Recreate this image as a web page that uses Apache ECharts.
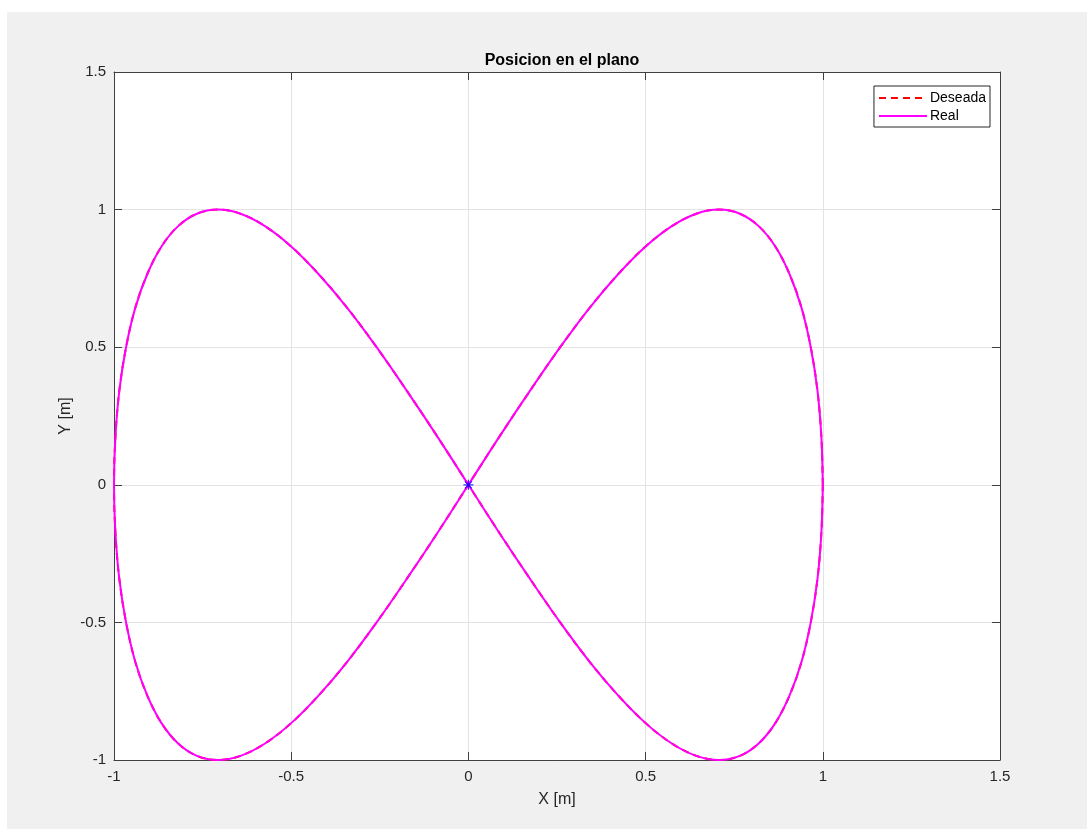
<!DOCTYPE html>
<html>
<head>
<meta charset="utf-8">
<script src="https://cdn.jsdelivr.net/npm/echarts@6/dist/echarts.min.js"></script>
<style>
  html, body { margin: 0; padding: 0; background: #ffffff; }
  #panel { position: absolute; left: 7px; top: 12px; width: 1080px; height: 817px; background: #f0f0f0; }
  #chart { position: absolute; left: 0; top: 0; width: 1087px; height: 829px; }
</style>
</head>
<body>
<div id="panel"></div>
<div id="chart"></div>
<script>
// Points (x [m], y [m])
const desiredX = [1, 0.996, 0.985, 0.966, 0.940, 0.906, 0.866, 0.819, 0.766, 0.707, 0.643, 0.574, 0.5,
  0.423, 0.342, 0.259, 0.174, 0.087, 0, -0.087, -0.174, -0.259, -0.342, -0.423, -0.5,
  -0.574, -0.643, -0.707, -0.766, -0.819, -0.866, -0.906, -0.940, -0.966, -0.985, -0.996, -1,
  -0.996, -0.985, -0.966, -0.940, -0.906, -0.866, -0.819, -0.766, -0.707, -0.643, -0.574, -0.5,
  -0.423, -0.342, -0.259, -0.174, -0.087, 0, 0.087, 0.174, 0.259, 0.342, 0.423, 0.5,
  0.574, 0.643, 0.707, 0.766, 0.819, 0.866, 0.906, 0.940, 0.966, 0.985, 0.996, 1];
const desiredY = [0, 0.174, 0.342, 0.5, 0.643, 0.766, 0.866, 0.940, 0.985, 1, 0.985, 0.940, 0.866,
  0.766, 0.643, 0.5, 0.342, 0.174, 0, -0.174, -0.342, -0.5, -0.643, -0.766, -0.866,
  -0.940, -0.985, -1, -0.985, -0.940, -0.866, -0.766, -0.643, -0.5, -0.342, -0.174, 0,
  0.174, 0.342, 0.5, 0.643, 0.766, 0.866, 0.940, 0.985, 1, 0.985, 0.940, 0.866,
  0.766, 0.643, 0.5, 0.342, 0.174, 0, -0.174, -0.342, -0.5, -0.643, -0.766, -0.866,
  -0.940, -0.985, -1, -0.985, -0.940, -0.866, -0.766, -0.643, -0.5, -0.342, -0.174, 0];
const realX = desiredX.slice();
const realY = desiredY.slice();
const startPoint = [0, 0];
const xTicks = [-1, -0.5, 0, 0.5, 1, 1.5];
const yTicks = [-1, -0.5, 0, 0.5, 1, 1.5];
const titleText = 'Posicion en el plano';
const xName = 'X [m]';
const yName = 'Y [m]';
const seriesNames = ['Deseada', 'Real'];

const zip = (xs, ys) => xs.map((x, i) => [x, ys[i]]);
const axisColor = '#404040';
const textColor = '#262626';
const font = 'Liberation Sans, Arial, sans-serif';
const fmt = v => (xTicks.indexOf(v) >= 0 || yTicks.indexOf(v) >= 0) ? String(v) : '';

const baseAxis = {
  min: -1, max: 1.5, interval: 0.5,
  axisLine: { show: true, onZero: false, lineStyle: { color: axisColor, width: 1 } },
  axisTick: { show: true, inside: true, length: 8, lineStyle: { color: axisColor } },
};

const star = 'path://M-0.6,-5 L0.6,-5 L0.6,5 L-0.6,5 Z M-5,-0.6 L5,-0.6 L5,0.6 L-5,0.6 Z M-3.9,-3.1 L-3.1,-3.9 L3.9,3.1 L3.1,3.9 Z M3.1,-3.9 L3.9,-3.1 L-3.1,3.9 L-3.9,3.1 Z';

const chart = echarts.init(document.getElementById('chart'), null, { renderer: 'canvas' });
chart.setOption({
  backgroundColor: 'transparent',
  animation: false,
  title: {
    text: titleText, left: 557, top: 48, textAlign: 'center',
    textStyle: { fontFamily: font, fontSize: 16, fontWeight: 'bold', color: '#000' }
  },
  grid: { left: 114, top: 72, width: 886, height: 688, show: true, backgroundColor: '#ffffff', borderWidth: 0 },
  legend: {
    data: seriesNames, orient: 'vertical', right: 97, top: 86,
    backgroundColor: '#ffffff', borderColor: '#262626', borderWidth: 1, borderRadius: 0,
    padding: [5, 4, 4, 4], itemGap: 4, itemWidth: 48, itemHeight: 14,
    itemStyle: { opacity: 0 },
    textStyle: { fontFamily: font, fontSize: 14, color: '#000', padding: [0, 0, 0, -2] }
  },
  xAxis: [
    Object.assign({}, baseAxis, {
      type: 'value', position: 'bottom',
      name: xName, nameLocation: 'middle', nameGap: 32,
      nameTextStyle: { fontFamily: font, fontSize: 16, color: textColor },
      axisLabel: { fontFamily: font, fontSize: 15, color: textColor, margin: 9, formatter: fmt },
      splitLine: { show: true, lineStyle: { color: '#e3e3e3', width: 1 } }
    }),
    Object.assign({}, baseAxis, {
      type: 'value', position: 'top',
      axisLabel: { show: false }, splitLine: { show: false }
    })
  ],
  yAxis: [
    Object.assign({}, baseAxis, {
      type: 'value', position: 'left',
      name: yName, nameLocation: 'middle', nameGap: 40, nameRotate: 90, nameMoveOverlap: false,
      nameTextStyle: { fontFamily: font, fontSize: 16, color: textColor },
      axisLabel: { fontFamily: font, fontSize: 15, color: textColor, margin: 8, formatter: fmt },
      splitLine: { show: true, lineStyle: { color: '#e3e3e3', width: 1 } }
    }),
    Object.assign({}, baseAxis, {
      type: 'value', position: 'right',
      axisLabel: { show: false }, splitLine: { show: false }
    })
  ],
  series: [
    {
      name: seriesNames[0], type: 'line', data: zip(desiredX, desiredY),
      smooth: 0.35, showSymbol: false, symbol: 'none',
      lineStyle: { color: '#ff0000', width: 2, type: [7, 5] }, itemStyle: { color: '#ff0000' }, z: 2
    },
    {
      name: seriesNames[1], type: 'line', data: zip(realX, realY),
      smooth: 0.35, showSymbol: false, symbol: 'none',
      lineStyle: { color: '#ff00ff', width: 2 }, itemStyle: { color: '#ff00ff' }, z: 3
    },
    {
      name: 'inicio', type: 'scatter', data: [startPoint],
      symbol: star, symbolSize: 10, itemStyle: { color: '#0000ff' }, z: 4
    }
  ]
});
</script>
</body>
</html>
